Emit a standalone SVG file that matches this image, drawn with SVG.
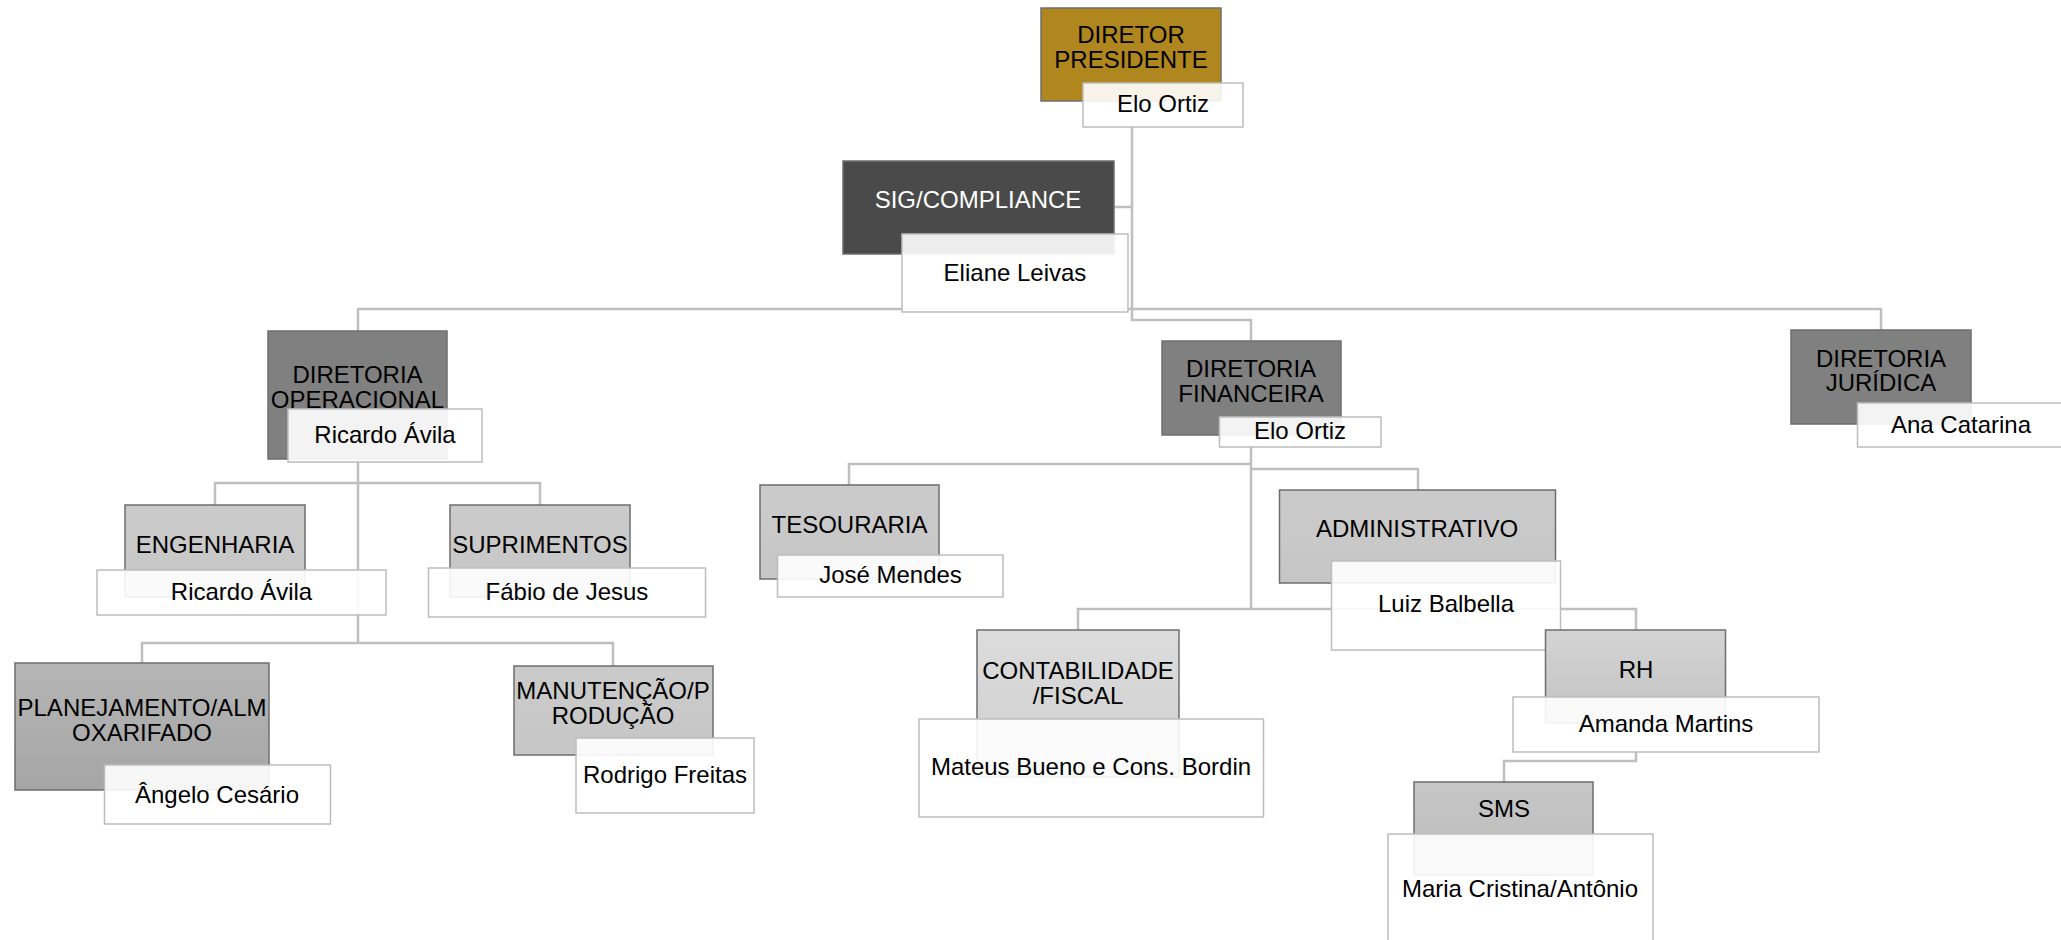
<svg xmlns="http://www.w3.org/2000/svg" width="2061" height="940" viewBox="0 0 2061 940">
<defs>
<linearGradient id="gPlan" x1="0" y1="0" x2="0" y2="1"><stop offset="0" stop-color="#B5B5B5"/><stop offset="1" stop-color="#A6A6A6"/></linearGradient>
<linearGradient id="gCont" x1="0" y1="0" x2="0" y2="1"><stop offset="0" stop-color="#DCDCDC"/><stop offset="1" stop-color="#CFCFCF"/></linearGradient>
<linearGradient id="gRh" x1="0" y1="0" x2="0" y2="1"><stop offset="0" stop-color="#D4D4D4"/><stop offset="1" stop-color="#C2C2C2"/></linearGradient>
<linearGradient id="gSms" x1="0" y1="0" x2="0" y2="1"><stop offset="0" stop-color="#C6C6C6"/><stop offset="1" stop-color="#BCBCBC"/></linearGradient>
<linearGradient id="gLight" x1="0" y1="0" x2="0" y2="1"><stop offset="0" stop-color="#CBCBCB"/><stop offset="1" stop-color="#C6C6C6"/></linearGradient>
</defs>
<style>
.conn{fill:none;stroke:#BFBFBF;stroke-width:2.5}
.box{stroke:#6E6E6E;stroke-width:1.5}
.name{fill:#FFFFFF;fill-opacity:0.9;stroke:#BDBDBD;stroke-width:1.5}
text{font-family:"Liberation Sans",Arial,sans-serif;font-size:24px;fill:#000000;text-anchor:middle}
.w{fill:#FFFFFF}
</style>
<g id="connectors">
<path class="conn" d="M1132 127 V320 H1251 V341"/>
<path class="conn" d="M1132 207 H1114"/>
<path class="conn" d="M358 331 V309 H1881 V330"/>
<path class="conn" d="M358 462 V643"/>
<path class="conn" d="M215 505 V483 H540 V505"/>
<path class="conn" d="M142 663 V643 H613 V666"/>
<path class="conn" d="M1251 447 V609"/>
<path class="conn" d="M849 485 V464 H1251"/>
<path class="conn" d="M1251 469 H1418 V490"/>
<path class="conn" d="M1078 630 V609 H1636 V630"/>
<path class="conn" d="M1636 752 V761 H1504 V782"/>
</g>
<g id="diretor-presidente">
<rect class="box" x="1041" y="8" width="180" height="93" fill="#B0861F"/>
<rect class="name" x="1083" y="83" width="160" height="44"/>
<text x="1131" y="43">DIRETOR</text>
<text x="1131" y="68">PRESIDENTE</text>
<text x="1163" y="112">Elo Ortiz</text>
</g>
<g id="sig-compliance">
<rect class="box" x="843" y="161" width="271" height="93" fill="#4A4A4A" stroke="#3A3A3A"/>
<rect class="name" x="902" y="234" width="226" height="78"/>
<text class="w" x="978" y="208">SIG/COMPLIANCE</text>
<text x="1015" y="281">Eliane Leivas</text>
</g>
<g id="diretoria-operacional">
<rect class="box" x="268" y="331" width="179" height="128" fill="#808080"/>
<rect class="name" x="288" y="409" width="194" height="53"/>
<text x="357.5" y="383">DIRETORIA</text>
<text x="357.5" y="408">OPERACIONAL</text>
<text x="385" y="443">Ricardo Ávila</text>
</g>
<g id="engenharia">
<rect class="box" x="125" y="505" width="180" height="92" fill="url(#gLight)"/>
<rect class="name" x="97" y="570" width="289" height="45"/>
<text x="215" y="553">ENGENHARIA</text>
<text x="241.5" y="600">Ricardo Ávila</text>
</g>
<g id="suprimentos">
<rect class="box" x="450" y="505" width="180" height="92" fill="url(#gLight)"/>
<rect class="name" x="428.5" y="568" width="277" height="49"/>
<text x="540" y="553">SUPRIMENTOS</text>
<text x="567" y="600">Fábio de Jesus</text>
</g>
<g id="planejamento">
<rect class="box" x="15" y="663" width="254" height="127" fill="url(#gPlan)"/>
<rect class="name" x="104.5" y="765" width="226" height="59"/>
<text x="142" y="716">PLANEJAMENTO/ALM</text>
<text x="142" y="741">OXARIFADO</text>
<text x="217" y="803">Ângelo Cesário</text>
</g>
<g id="manutencao">
<rect class="box" x="514" y="666" width="199" height="89" fill="url(#gLight)"/>
<rect class="name" x="576" y="738" width="178" height="75"/>
<text x="613" y="699">MANUTENÇÃO/P</text>
<text x="613" y="723.5">RODUÇÃO</text>
<text x="665" y="783">Rodrigo Freitas</text>
</g>
<g id="diretoria-financeira">
<rect class="box" x="1162" y="341" width="179" height="94" fill="#808080"/>
<rect class="name" x="1219.5" y="417" width="161.5" height="30"/>
<text x="1251" y="377">DIRETORIA</text>
<text x="1251" y="402">FINANCEIRA</text>
<text x="1300" y="439">Elo Ortiz</text>
</g>
<g id="tesouraria">
<rect class="box" x="760" y="485" width="179" height="94" fill="url(#gLight)"/>
<rect class="name" x="777.5" y="555" width="225.5" height="42"/>
<text x="849.5" y="533">TESOURARIA</text>
<text x="890.5" y="583">José Mendes</text>
</g>
<g id="administrativo">
<rect class="box" x="1279.5" y="490" width="276" height="93" fill="url(#gLight)"/>
<rect class="name" x="1331.5" y="561" width="229" height="89"/>
<text x="1417" y="537">ADMINISTRATIVO</text>
<text x="1446" y="612">Luiz Balbella</text>
</g>
<g id="contabilidade">
<rect class="box" x="977" y="630" width="202" height="147" fill="url(#gCont)"/>
<rect class="name" x="919" y="719" width="344.5" height="98"/>
<text x="1078" y="679">CONTABILIDADE</text>
<text x="1078" y="704">/FISCAL</text>
<text x="1091" y="775">Mateus Bueno e Cons. Bordin</text>
</g>
<g id="rh">
<rect class="box" x="1545.5" y="630" width="180" height="93" fill="url(#gRh)"/>
<rect class="name" x="1513" y="697" width="306" height="55"/>
<text x="1636" y="678">RH</text>
<text x="1666" y="732">Amanda Martins</text>
</g>
<g id="sms">
<rect class="box" x="1414" y="782" width="179" height="93" fill="url(#gSms)"/>
<rect class="name" x="1388" y="834" width="265" height="112"/>
<text x="1504" y="817">SMS</text>
<text x="1520" y="897">Maria Cristina/Antônio</text>
</g>
<g id="diretoria-juridica">
<rect class="box" x="1791" y="330" width="180" height="94" fill="#808080"/>
<rect class="name" x="1857.5" y="403" width="210" height="44"/>
<text x="1881" y="367">DIRETORIA</text>
<text x="1881" y="391">JURÍDICA</text>
<text x="1961" y="433">Ana Catarina</text>
</g>
</svg>
